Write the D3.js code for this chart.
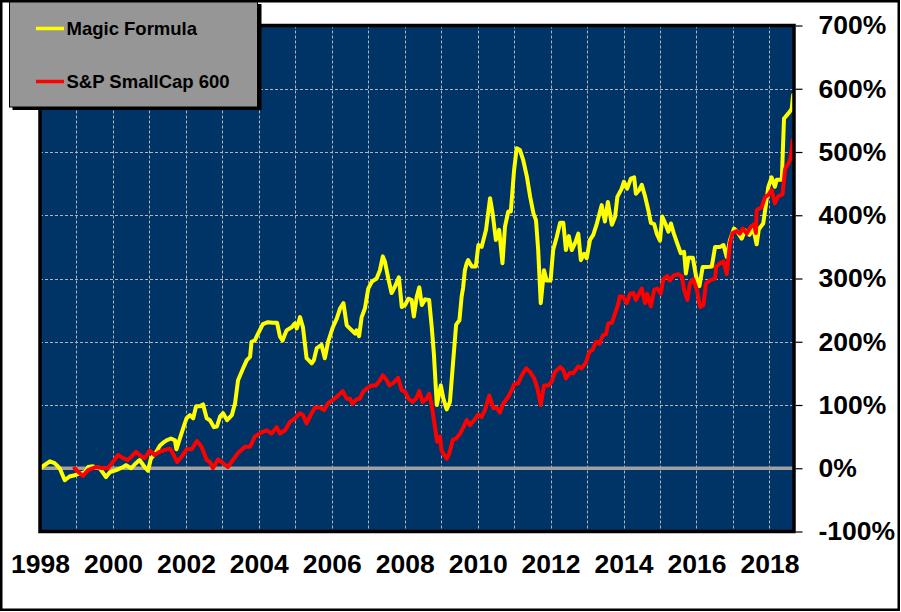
<!DOCTYPE html>
<html>
<head>
<meta charset="utf-8">
<script src="https://cdn.jsdelivr.net/npm/d3@7"></script>
<style>
  html, body { margin: 0; padding: 0; background: #fff; }
  svg { display: block; font-family: "Liberation Sans", Arial, sans-serif; }
</style>
</head>
<body>
<svg id="chart" width="901" height="612"></svg>
<script>
// ---------- DATA ----------
const seriesNames = ["Magic Formula", "S&P SmallCap 600"];
const xLabelYears = [1998, 2000, 2002, 2004, 2006, 2008, 2010, 2012, 2014, 2016, 2018];
const gridYears = d3.range(1999, 2019);
const yTicks = [-100, 0, 100, 200, 300, 400, 500, 600, 700];

const mfYears = [
  1998.00,1998.27,1998.40,1998.54,1998.68,1998.81,1998.95,
  1999.23,1999.32,1999.45,1999.64,1999.81,1999.92,
  2000.09,2000.28,2000.36,2000.50,2000.63,2000.73,2000.87,2000.96,
  2001.04,2001.17,2001.29,2001.37,2001.47,2001.59,2001.70,2001.74,2001.88,2001.97,
  2002.02,2002.11,2002.20,2002.28,2002.39,2002.47,2002.57,2002.66,2002.77,2002.85,2002.94,
  2003.02,2003.13,2003.26,2003.35,2003.43,2003.57,2003.67,2003.76,2003.80,2003.89,2003.98,
  2004.11,2004.25,2004.39,2004.50,2004.58,2004.65,2004.76,2004.90,2004.99,
  2005.04,2005.13,2005.21,2005.31,2005.45,2005.51,2005.59,2005.72,2005.81,2005.90,
  2006.03,2006.14,2006.23,2006.32,2006.41,2006.55,2006.64,2006.68,2006.75,2006.82,2006.91,
  2007.00,2007.10,2007.23,2007.32,2007.40,2007.46,2007.55,2007.64,2007.73,2007.84,2007.92,
  2008.01,2008.10,2008.19,2008.25,2008.33,2008.40,2008.47,2008.56,2008.67,2008.74,2008.80,2008.88,2008.99,
  2009.06,2009.15,2009.24,2009.33,2009.41,2009.50,2009.56,2009.60,2009.65,2009.70,2009.74,2009.84,2009.95,
  2010.02,2010.11,2010.23,2010.34,2010.41,2010.50,2010.59,2010.68,2010.75,2010.84,2010.91,
  2011.00,2011.07,2011.16,2011.25,2011.35,2011.44,2011.53,2011.60,2011.66,2011.73,2011.82,2011.89,
  2012.00,2012.07,2012.17,2012.26,2012.35,2012.42,2012.50,2012.58,2012.67,2012.76,2012.83,2012.92,2012.99,
  2013.08,2013.17,2013.26,2013.40,2013.49,2013.57,2013.68,2013.77,2013.83,2013.95,
  2014.01,2014.10,2014.20,2014.29,2014.34,2014.43,2014.50,2014.59,2014.68,2014.75,2014.84,2014.91,
  2015.00,2015.06,2015.16,2015.23,2015.30,2015.38,2015.47,2015.57,2015.66,2015.71,2015.78,2015.90,2015.99,
  2016.08,2016.17,2016.28,2016.42,2016.51,2016.65,2016.74,2016.83,2016.92,
  2017.03,2017.12,2017.24,2017.33,2017.45,2017.56,2017.65,2017.71,2017.83,2017.91,2017.97,
  2018.06,2018.15,2018.20,2018.34,2018.40,2018.52,2018.61,2018.65
];
const mfValues = [
  0,11,8,0,-19,-13,-11,
  -6,2,3,0,-14,-6,
  -3,2,5,0,8,13,2,-4,
  15,24,36,40,44,47,44,30,55,71,
  79,84,79,98,98,101,79,76,65,66,82,
  87,76,84,103,139,158,171,176,200,202,213,
  228,231,230,230,208,202,218,223,229,
  221,239,223,174,166,171,190,195,174,200,
  223,237,253,261,226,218,213,218,209,239,253,
  284,295,300,313,335,326,300,277,287,302,255,
  258,268,266,240,271,286,258,267,266,224,181,100,131,
  110,93,105,170,227,234,271,285,313,324,329,319,319,
  353,350,377,427,403,361,377,324,382,406,406,
  472,506,503,487,461,429,403,392,345,261,313,297,
  297,345,366,388,388,345,367,345,356,371,329,339,332,
  361,369,385,416,390,421,385,398,429,442,
  453,442,458,460,434,440,448,430,408,388,386,371,
  360,398,385,374,387,371,356,340,342,308,333,333,303,
  288,318,318,319,350,350,353,334,361,
  379,374,363,376,369,379,354,378,387,419,445,
  460,445,456,456,553,561,568,590
];

const spYears = [
  1998.95,
  1999.09,1999.18,1999.32,1999.54,1999.73,1999.86,
  2000.00,2000.14,2000.28,2000.41,2000.50,2000.63,2000.73,2000.87,
  2001.01,2001.14,2001.28,2001.42,2001.56,2001.62,2001.76,2001.88,
  2002.02,2002.16,2002.30,2002.43,2002.57,2002.66,2002.74,2002.88,
  2003.02,2003.15,2003.29,2003.43,2003.62,2003.76,2003.89,
  2004.08,2004.22,2004.35,2004.49,2004.58,2004.72,2004.85,2004.99,
  2005.13,2005.21,2005.31,2005.42,2005.54,2005.68,2005.79,2005.90,
  2006.03,2006.14,2006.30,2006.41,2006.50,2006.57,2006.68,2006.77,2006.86,2006.96,
  2007.10,2007.21,2007.32,2007.40,2007.51,2007.58,2007.69,2007.82,2007.92,
  2008.01,2008.10,2008.22,2008.31,2008.40,2008.49,2008.60,2008.67,2008.74,2008.83,2008.89,2008.97,
  2009.01,2009.15,2009.22,2009.32,2009.41,2009.52,2009.61,2009.70,2009.79,2009.93,
  2010.02,2010.11,2010.20,2010.32,2010.43,2010.52,2010.61,2010.70,2010.84,2010.93,
  2011.00,2011.11,2011.21,2011.33,2011.44,2011.55,2011.64,2011.73,2011.82,2011.94,
  2012.03,2012.12,2012.26,2012.35,2012.42,2012.53,2012.62,2012.76,2012.85,2012.97,
  2013.06,2013.15,2013.25,2013.34,2013.43,2013.52,2013.58,2013.68,2013.77,2013.86,2013.90,2013.99,
  2014.09,2014.18,2014.27,2014.34,2014.50,2014.59,2014.65,2014.75,2014.84,2014.93,
  2015.02,2015.09,2015.20,2015.27,2015.38,2015.50,2015.60,2015.66,2015.75,2015.82,2015.91,
  2016.01,2016.10,2016.19,2016.26,2016.37,2016.51,2016.54,2016.65,2016.74,2016.83,2016.92,2016.99,
  2017.10,2017.19,2017.27,2017.38,2017.49,2017.58,2017.63,2017.65,2017.79,2017.88,2017.97,
  2018.06,2018.15,2018.24,2018.36,2018.43,2018.52,2018.58,2018.64
];
const spValues = [
  0,
  -8,-12,-3,2,0,0,
  10,21,16,13,18,26,21,16,
  28,21,26,29,31,26,10,18,
  30,30,43,34,13,10,0,14,
  8,2,13,24,34,34,50,
  57,60,55,65,55,60,73,79,
  87,84,71,84,96,96,92,103,
  108,113,122,110,110,102,109,110,121,126,
  131,131,139,147,139,131,135,143,123,
  121,110,105,110,122,105,110,118,100,65,42,50,
  28,15,23,45,47,55,65,76,68,78,
  85,81,92,115,95,96,88,102,113,123,
  133,134,147,158,152,142,126,100,131,131,
  137,152,160,155,142,151,150,161,158,167,
  184,187,200,197,210,212,229,230,245,261,272,271,
  261,276,277,266,284,261,276,256,282,284,
  276,299,304,297,305,307,303,282,266,292,299,
  282,255,258,292,297,300,319,324,327,307,356,372,
  375,371,379,371,382,386,372,408,413,429,432,
  440,419,430,433,473,482,490,519
];

// ---------- LAYOUT ----------
const svg = d3.select("#chart");
const W = 901, H = 612;
const plot = { left: 40, right: 794, top: 25.5, bottom: 531.5 };

const x = d3.scaleLinear().domain([1998, 2018.674]).range([plot.left, plot.right]);
const y = d3.scaleLinear().domain([-100, 700]).range([plot.bottom, plot.top]);

svg.append("rect").attr("width", W).attr("height", H).attr("fill", "#ffffff");

// plot background
svg.append("rect")
  .attr("x", plot.left).attr("y", plot.top)
  .attr("width", plot.right - plot.left).attr("height", plot.bottom - plot.top)
  .attr("fill", "#003366");

// gridlines
const grid = svg.append("g").attr("stroke", "#b4b4b4").attr("stroke-width", 1).attr("stroke-dasharray", "3,2");
grid.selectAll("line.v").data(gridYears).join("line")
  .attr("x1", d => Math.round(x(d)) + 0.5).attr("x2", d => Math.round(x(d)) + 0.5)
  .attr("y1", plot.top).attr("y2", plot.bottom);
grid.selectAll("line.h").data(yTicks.filter(v => v > -100 && v < 700 && v !== 0)).join("line")
  .attr("x1", plot.left).attr("x2", plot.right)
  .attr("y1", d => Math.round(y(d)) + 0.5).attr("y2", d => Math.round(y(d)) + 0.5);

// zero line
svg.append("line")
  .attr("x1", plot.left).attr("x2", plot.right)
  .attr("y1", y(0)).attr("y2", y(0))
  .attr("stroke", "#a0a0a0").attr("stroke-width", 3.5);

// clip
svg.append("clipPath").attr("id", "clip").append("rect")
  .attr("x", plot.left).attr("y", plot.top)
  .attr("width", plot.right - plot.left).attr("height", plot.bottom - plot.top);

const line = d3.line().x(d => x(d[0])).y(d => y(d[1]));
const mfData = mfYears.map((yr, i) => [yr, mfValues[i]]);
const spData = spYears.map((yr, i) => [yr, spValues[i]]);

const lines = svg.append("g").attr("clip-path", "url(#clip)");
lines.append("path").datum(mfData).attr("d", line)
  .attr("fill", "none").attr("stroke", "#ffff00").attr("stroke-width", 4)
  .attr("stroke-linejoin", "round").attr("stroke-linecap", "round");
lines.append("path").datum(spData).attr("d", line)
  .attr("fill", "none").attr("stroke", "#ff0000").attr("stroke-width", 4)
  .attr("stroke-linejoin", "round").attr("stroke-linecap", "round");

// plot border
svg.append("rect")
  .attr("x", plot.left).attr("y", plot.top)
  .attr("width", plot.right - plot.left).attr("height", plot.bottom - plot.top)
  .attr("fill", "none").attr("stroke", "#000").attr("stroke-width", 3.5);

// right axis
const yAxis = d3.axisRight(y).tickValues(yTicks).tickSize(7).tickPadding(16)
  .tickFormat(d => d + "%");
const gy = svg.append("g").attr("transform", `translate(${plot.right + 1.5},0)`).call(yAxis);
gy.select(".domain").remove();
gy.selectAll(".tick line").attr("stroke", "#000").attr("stroke-width", 1.2);
gy.selectAll(".tick text")
  .attr("fill", "#000").attr("font-size", 26.5).attr("font-weight", "bold")
  .attr("font-family", "'Liberation Sans', Arial, sans-serif");

// bottom axis labels
const xAxis = d3.axisBottom(x).tickValues(xLabelYears).tickSize(0).tickFormat(d3.format("d"));
const gx = svg.append("g").attr("transform", `translate(0,${plot.bottom})`).call(xAxis);
gx.select(".domain").remove();
gx.selectAll(".tick text")
  .attr("y", 41.5).attr("dy", 0)
  .attr("fill", "#000").attr("font-size", 26.5).attr("font-weight", "bold")
  .attr("font-family", "'Liberation Sans', Arial, sans-serif");

// legend
const legend = svg.append("g");
legend.append("rect").attr("x", 12.5).attr("y", 4).attr("width", 249).attr("height", 106).attr("fill", "#000");
legend.append("rect").attr("x", 9.5).attr("y", 1).attr("width", 248).attr("height", 106)
  .attr("fill", "#969696").attr("stroke", "#000").attr("stroke-width", 1);
const legendColors = ["#ffff00", "#ff0000"];
const legendRows = [28.5, 81.5];
seriesNames.forEach((name, i) => {
  legend.append("line").attr("x1", 36).attr("x2", 64)
    .attr("y1", legendRows[i]).attr("y2", legendRows[i])
    .attr("stroke", legendColors[i]).attr("stroke-width", 3.5);
  legend.append("text").attr("x", 66.5).attr("y", legendRows[i] + 6.5)
    .attr("font-size", 18.5).attr("font-weight", "bold").attr("fill", "#000")
    .text(name);
});

// outer frame
svg.append("rect").attr("x", 1.25).attr("y", 1.25).attr("width", W - 3.5).attr("height", H - 3.5)
  .attr("fill", "none").attr("stroke", "#000").attr("stroke-width", 2.5);
</script>
</body>
</html>
